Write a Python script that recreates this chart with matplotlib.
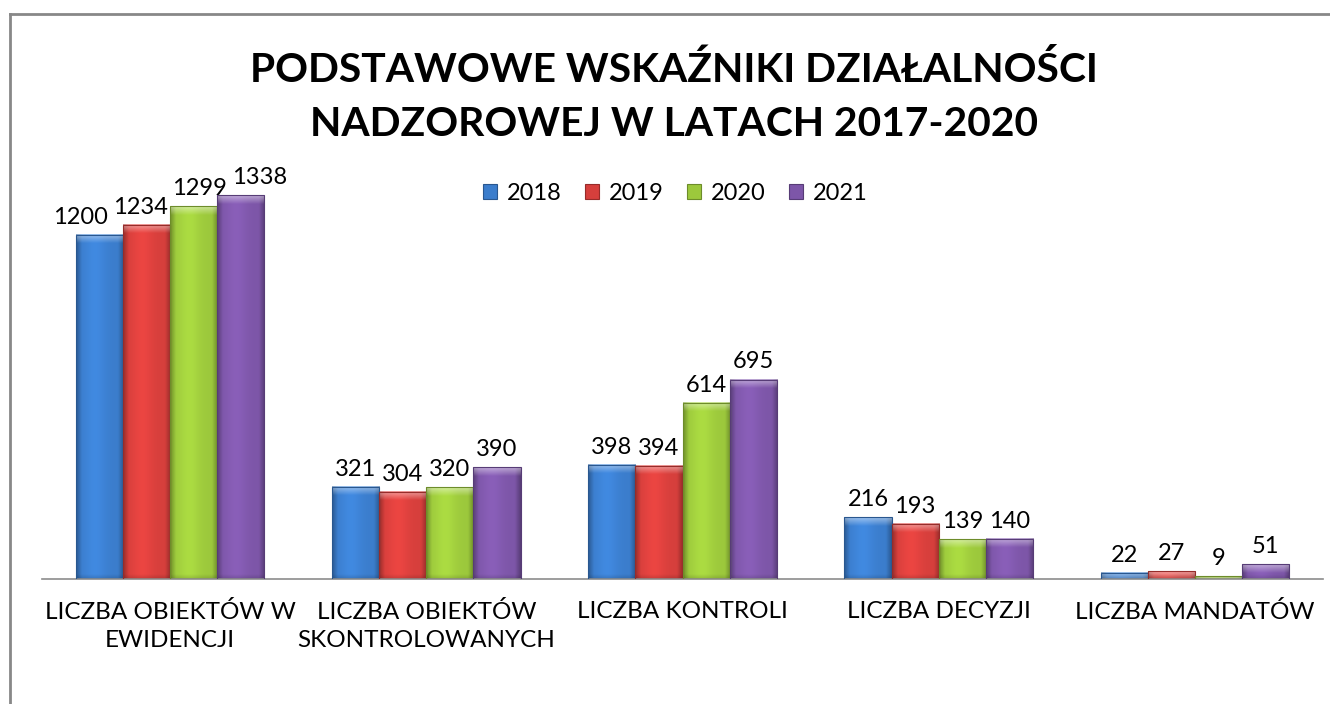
import matplotlib
matplotlib.use("Agg")
import matplotlib.pyplot as plt
import numpy as np
from matplotlib.colors import to_rgb
from matplotlib.lines import Line2D
from matplotlib.patches import Patch

plt.rcParams["font.family"] = ["Lato", "DejaVu Sans"]

categories = [
    "LICZBA OBIEKTÓW W\nEWIDENCJI",
    "LICZBA OBIEKTÓW\nSKONTROLOWANYCH",
    "LICZBA KONTROLI",
    "LICZBA DECYZJI",
    "LICZBA MANDATÓW",
]
years = ["2018", "2019", "2020", "2021"]
v2018 = [1200, 321, 398, 216, 22]
v2019 = [1234, 304, 394, 193, 27]
v2020 = [1299, 320, 614, 139, 9]
v2021 = [1338, 390, 695, 140, 51]
series = [v2018, v2019, v2020, v2021]
colors = ["#3b7dcc", "#d63f3c", "#9cc83c", "#7d56a8"]

title = "PODSTAWOWE WSKAŹNIKI DZIAŁALNOŚCI\nNADZOROWEJ W LATACH 2017-2020"

W, H = 1330, 704
fig = plt.figure(figsize=(W / 100, H / 100), dpi=100)
ax_l, ax_r, ax_b, ax_t = 42, 1323, 579, 150
ax = fig.add_axes([ax_l / W, 1 - ax_b / H, (ax_r - ax_l) / W, (ax_b - ax_t) / H])
ymax = 1495
ax.set_xlim(-0.5, len(categories) - 0.5)
ax.set_ylim(0, ymax)

upp_y = ymax / (ax_b - ax_t)          # data units per pixel (y)
upp_x = len(categories) / (ax_r - ax_l)  # data units per pixel (x)

bw = 0.184
x = np.arange(len(categories))


def shade_bar(x0, w, h, base):
    # fake 3D bevel look: darker sides, light top edge
    base = np.array(to_rgb(base))
    pw = max(int(round(w / upp_x)), 2)
    ph = max(int(round(h / upp_y)), 1)
    xs = (np.arange(pw) + 0.5)
    ys = (np.arange(ph) + 0.5)  # pixel distance from the top
    dx = np.minimum(xs, pw - xs)
    side = np.clip(dx / 6.0, 0, 1)
    gx = 0.70 + 0.30 * side
    gx = gx + 0.10 * np.exp(-((xs / pw - 0.4) ** 2) / 0.05)
    top = np.clip(1 - ys / 9.0, 0, 1)
    img = base[None, None, :] * gx[None, :, None]
    img = img * (1 - 0.5 * top[:, None, None]) + 0.5 * top[:, None, None]
    bottom = np.clip(1 - (ph - ys) / 5.0, 0, 1)
    img = img * (1 - 0.15 * bottom[:, None, None])
    img = np.clip(img, 0, 1)
    ax.imshow(img, extent=(x0, x0 + w, 0, h), aspect="auto",
              interpolation="bilinear", zorder=2, origin="upper")


for i, (vals, col) in enumerate(zip(series, colors)):
    offs = x + (i - 1.5) * bw
    bars = ax.bar(offs, vals, bw, color="none",
                  edgecolor=tuple(c * 0.7 for c in to_rgb(col)), lw=0.8, zorder=3)
    for b, v in zip(bars, vals):
        shade_bar(b.get_x(), b.get_width(), b.get_height(), col)
        # wide (4-digit) labels get spread out so they don't collide
        dx = (i - 1.5) * 9 if len(str(v)) > 3 else 0
        ax.annotate(str(v), (b.get_x() + b.get_width() / 2, v),
                    xytext=(dx, 8), textcoords="offset points",
                    ha="center", va="baseline", fontsize=17, color="black")

ax.set_xlim(-0.5, len(categories) - 0.5)
ax.set_ylim(0, ymax)
ax.set_xticks(x)
ax.set_xticklabels(categories, fontsize=17.5, linespacing=1.4)
ax.tick_params(axis="x", length=0, pad=16)
ax.set_yticks([])
for s in ["top", "left", "right"]:
    ax.spines[s].set_visible(False)
ax.spines["bottom"].set_color("#8c8c8c")
ax.spines["bottom"].set_linewidth(1.2)
ax.patch.set_visible(False)

fig.text(674 / W, 1 - 97 / H, title, ha="center", va="center",
         fontsize=29.3, fontweight="bold", linespacing=1.6)

handles = [Patch(facecolor=c, edgecolor=tuple(v * 0.7 for v in to_rgb(c)), lw=0.8)
           for c in colors]
fig.legend(handles, years, loc="center", bbox_to_anchor=(675 / W, 1 - 193 / H),
           ncol=4, frameon=False, fontsize=17, handlelength=0.6, handleheight=0.6,
           handletextpad=0.4, columnspacing=1.0)

# chart frame (only top and left visible)
fig.add_artist(Line2D([9.5 / W, 1], [1 - 13.5 / H] * 2, transform=fig.transFigure,
                      color="#888888", lw=2))
fig.add_artist(Line2D([9.5 / W] * 2, [0, 1 - 13.5 / H], transform=fig.transFigure,
                      color="#888888", lw=2))

fig.savefig("out.png", dpi=100)
